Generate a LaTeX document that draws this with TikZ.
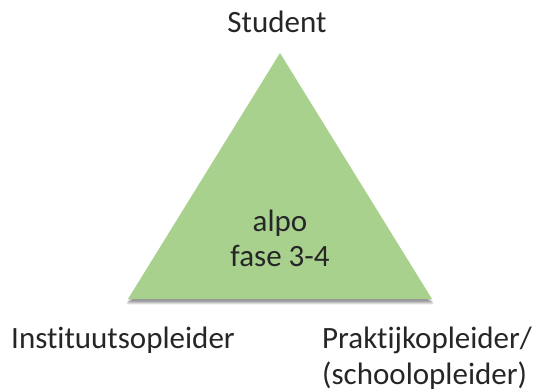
\documentclass[tikz,border=0pt]{standalone}
\usepackage{fontspec}
\setmainfont{Carlito}[Ligatures={NoCommon}]
\usepackage{tikz}
\usetikzlibrary{shadows.blur}
\definecolor{alpogreen}{HTML}{A9D18E}
\tikzset{
  label text/.style={font=\fontsize{31}{36}\selectfont, inner sep=0pt, text=black!85},
}

\begin{document}
\begin{tikzpicture}[x=1pt, y=1pt]
  \useasboundingbox (0,0) rectangle (538,391);

  % Triangle corners
  \coordinate (top) at (280,338);
  \coordinate (left) at (128,92);
  \coordinate (right) at (432,92);

  % Triangle
  \fill[alpogreen, blur shadow={shadow xshift=0pt, shadow yshift=-4pt, shadow blur steps=8, shadow opacity=40}]
    (top) -- (right) -- (left) -- cycle;

  % Labels
  \node[label text, anchor=base] (student) at (277,358) {Student};
  \node[label text, anchor=base, align=center] (alpo) at (280,124) {alpo\\fase 3-4};
  \node[label text, anchor=base west] (instituut) at (11,42) {Instituutsopleider};
  \node[label text, anchor=base west, align=left] (praktijk) at (322,7)
       {Praktijkopleider/\\(schoolopleider)};
\end{tikzpicture}
\end{document}
